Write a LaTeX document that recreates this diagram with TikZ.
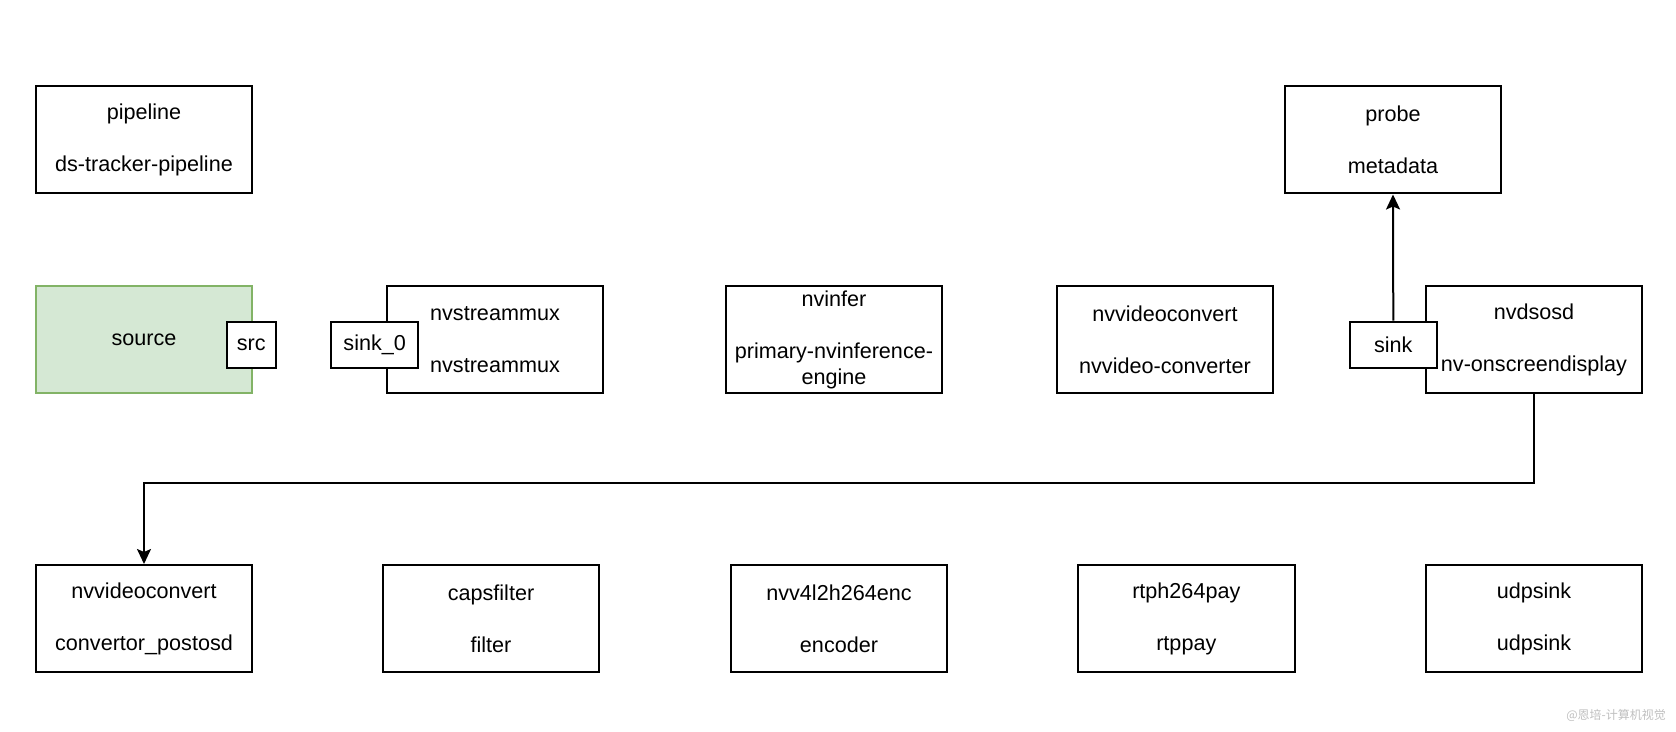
\documentclass[tikz,border=0pt]{standalone}
\usepackage{fontspec}
\setmainfont{Liberation Sans}
\newfontfamily\cjk{Noto Sans CJK SC}
\usetikzlibrary{arrows.meta}
\definecolor{srcfill}{HTML}{D5E8D4}
\definecolor{srcline}{HTML}{82B366}

\begin{document}
\begin{tikzpicture}[x=0.5pt,y=-0.5pt,
	elem/.style={draw=black,line width=1pt,fill=white,minimum width=108.2pt,minimum height=53.5pt,inner sep=0pt,align=center,font=\fontsize{10.8}{12.96}\selectfont},
	pad/.style={draw=black,line width=1pt,fill=white,minimum height=23.3pt,inner sep=0pt,font=\fontsize{10.8}{12.96}\selectfont},
	link/.style={line width=1pt,-{Stealth[length=7.5pt,width=7pt,inset=1.5pt]}}]
	\useasboundingbox (0,0) rectangle (1676,732);
	\node[elem] (pipeline) at (144,140) {pipeline\\[12.96pt]ds-tracker-pipeline};
	\node[elem] (probe) at (1393,140) {probe\\[12.96pt]metadata};
	\node[elem,draw=srcline,fill=srcfill] (source) at (144,340) {source};
	\node[elem] (mux) at (495,340) {nvstreammux\\[12.96pt]nvstreammux};
	\node[elem] (infer) at (834,340) {nvinfer\\[12.96pt]primary-nvinference-\\engine};
	\node[elem] (conv) at (1165,340) {nvvideoconvert\\[12.96pt]nvvideo-converter};
	\node[elem] (osd) at (1534,340) {nvdsosd\\[12.96pt]nv-onscreendisplay};
	\node[pad,minimum width=24.6pt] (src) at (251.2,345) {src};
	\node[pad,minimum width=43.3pt] (sink0) at (374.7,345) {sink\_0};
	\node[pad,minimum width=43.3pt] (sink) at (1393.3,345) {sink};
	\node[elem] (postconv) at (144,618.5) {nvvideoconvert\\[12.96pt]convertor\_postosd};
	\node[elem] (caps) at (491,618.5) {capsfilter\\[12.96pt]filter};
	\node[elem] (enc) at (839,618.5) {nvv4l2h264enc\\[12.96pt]encoder};
	\node[elem] (pay) at (1186.3,618.5) {rtph264pay\\[12.96pt]rtppay};
	\node[elem] (udp) at (1534,618.5) {udpsink\\[12.96pt]udpsink};
	\coordinate (bend) at (1534,483.3);
	\draw[link] (sink.north) -- (probe.south);
	\draw[link] (osd.south) -- (bend) -| (postconv.north);
	\node[font=\cjk\fontsize{6}{7}\selectfont,text=black!25] (mark) at (1616,715) {@恩培-计算机视觉};
\end{tikzpicture}
\end{document}
